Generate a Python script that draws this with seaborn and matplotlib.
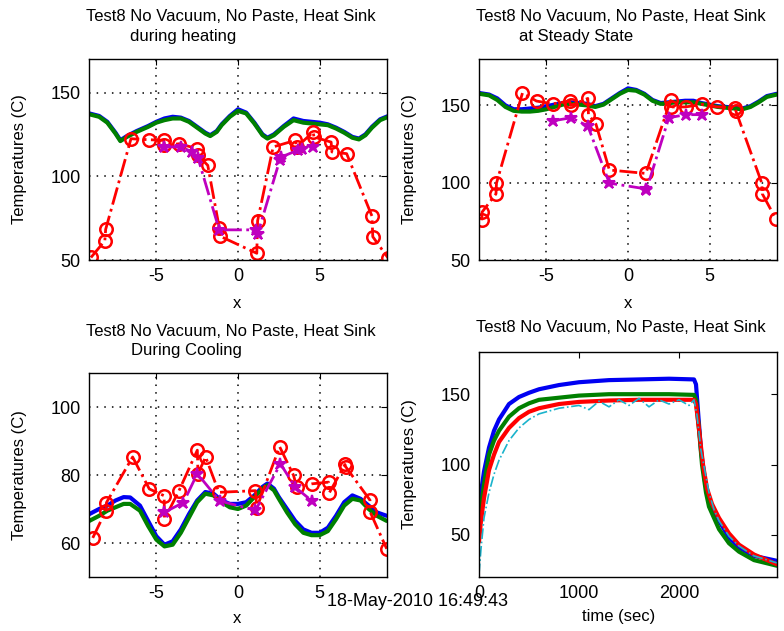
import numpy as np
import pandas as pd
import matplotlib
matplotlib.use("Agg")
import matplotlib.pyplot as plt
import seaborn as sns

# ---------------- data ----------------
title_main = "Test8 No Vacuum, No Paste, Heat Sink"
subtitles = ["during heating", "at Steady State", "During Cooling"]
timestamp = "18-May-2010 16:49:43"

# heating profile (top-left)
heat_x = [-9.1, -8.5, -8.0, -7.5, -7.2, -6.8, -6.2, -5.5, -5.0, -4.5, -4.0, -3.5, -3.0, -2.5, -2.0,
          -1.7, -1.3, -1.0, -0.5, 0.0, 0.5, 1.0, 1.5, 1.8, 2.2, 2.8, 3.4, 4.0, 4.5, 5.0, 5.5, 6.0,
          6.5, 7.0, 7.4, 7.8, 8.2, 8.7, 9.2]
heat_blue = [137.5, 136, 132.5, 126, 121.5, 124, 127, 130, 132.5, 134.5, 135.5, 135, 133, 129.5, 126,
             124.5, 127, 131, 136, 140, 138, 132, 125, 123, 125, 130, 134.5, 133, 132.5, 132, 131, 129,
             126.5, 123.5, 122.5, 125, 129.5, 134, 136]
heat_green = [137, 135.5, 132, 125.5, 121, 123.5, 126.5, 129.5, 132, 133.5, 134.5, 134.5, 132.5, 129, 125.5,
              124, 126.5, 130.5, 135.5, 139, 137.5, 131.5, 124.5, 122.5, 124.5, 129.5, 133.5, 132, 131.5,
              131, 130.5, 128.5, 126, 123, 122, 124.5, 129, 133.5, 135.5]
heat_red_x = [-9.0, -8.15, -8.1, -6.55, -5.45, -4.55, -4.5, -3.6, -2.5, -2.45, -1.85, -1.15, -1.12,
              1.15, 1.2, 2.15, 3.5, 3.6, 4.6, 4.65, 5.7, 5.75, 6.65, 8.2, 8.25, 9.2]
heat_red = [51.5, 61.5, 68.3, 122.4, 121.8, 121.5, 118.5, 119.4, 116.5, 112.5, 106.5, 69.4, 64.3,
            54, 73.4, 117.5, 121.4, 117.5, 126.4, 123.4, 120.4, 114.5, 113.5, 76.2, 63.9, 51]
heat_mag_x = [-4.55, -3.5, -2.8, -2.45, -1.15, 1.1, 1.2, 2.55, 2.65, 3.65, 3.9, 4.6]
heat_mag = [117.5, 117.5, 114.5, 111, 68, 68, 65.5, 109.5, 111.5, 115.5, 116.5, 117.5]

# steady state profile (top-right)
ss_x = [-9.1, -8.5, -8.0, -7.5, -7.0, -6.5, -6.0, -5.5, -5.0, -4.5, -4.0, -3.5, -3.0, -2.5, -2.0,
        -1.5, -1.0, -0.5, 0.0, 0.5, 1.0, 1.5, 2.0, 2.5, 3.0, 3.5, 4.0, 4.5, 5.0, 5.5, 6.0, 6.5, 7.0,
        7.5, 8.0, 8.5, 9.1]
ss_blue = [158, 157, 154.5, 150, 147.5, 147.5, 148, 148.5, 149.5, 150.5, 151.5, 152, 151.5, 151, 149.5,
           151, 154.5, 158, 161, 160, 157.5, 153.5, 151.5, 152, 152.5, 153, 153, 151.5, 150.5, 149.5,
           149, 148.5, 148, 149.5, 152.5, 156, 157.5]
ss_green = [157.5, 156.5, 153.5, 149, 146.5, 146, 146, 146.5, 147.5, 149, 150.5, 151, 150.5, 150, 149,
            150.5, 154, 157.5, 160, 159.5, 157, 153, 151, 151.5, 152, 152, 152, 151, 150, 149, 148.5,
            148, 147.5, 149, 152, 155.5, 157]
ss_red_x = [-8.95, -8.93, -8.08, -8.05, -6.46, -5.6, -4.6, -3.58, -3.5, -2.46, -2.42, -1.96, -1.14,
            1.09, 2.61, 2.65, 3.52, 4.54, 5.45, 6.57, 6.6, 8.19, 8.22, 9.04]
ss_red = [75.7, 81, 92.8, 99.7, 158, 152.8, 151, 152.8, 150, 154.5, 144, 137.8, 108.2,
          106, 153.2, 149, 149, 150.6, 149, 148.5, 146.4, 99.7, 92.8, 76.8]
ss_mag_x = [-4.6, -3.48, -2.46, -1.14, 1.09, 1.12, 2.5, 3.52, 4.54]
ss_mag = [140, 142, 136.7, 99.7, 96, 95, 142, 144, 144]

# cooling profile (bottom-left)
cool_x = [-9.1, -8.5, -8.0, -7.5, -7.0, -6.6, -6.0, -5.5, -5.0, -4.5, -4.0, -3.5, -3.0, -2.5, -2.0,
          -1.5, -1.0, -0.5, 0.0, 0.5, 1.0, 1.5, 1.8, 2.2, 2.5, 3.0, 3.5, 4.0, 4.5, 5.0, 5.5, 6.0,
          6.5, 7.0, 7.5, 8.0, 8.5, 9.1]
cool_blue = [68.5, 70, 71, 72.5, 73.5, 73.4, 71, 66.5, 62, 59.5, 60.5, 64, 68.5, 72.5, 75, 74.5, 72.5,
             71.5, 71.5, 72, 74, 76.5, 77.5, 76, 73.5, 70, 66.5, 64, 63, 63, 64.5, 68, 72, 74, 73,
             71, 69, 68]
cool_green = [66.5, 68, 69.5, 70.5, 71.5, 71.5, 69.5, 65, 61, 59, 59.5, 63, 67.5, 72, 74.5, 74, 72,
              70.5, 70, 71, 73.5, 76, 77, 75.5, 73, 69, 65.5, 63, 62.3, 62.3, 63.5, 67, 71, 73, 72.5,
              70, 68, 66.5]
cool_red_x = [-8.89, -8.1, -8.05, -6.45, -5.43, -4.52, -4.5, -3.61, -2.49, -2.45, -1.98, -1.17, 1.07,
              1.15, 2.55, 3.4, 3.6, 4.52, 5.54, 5.57, 6.55, 6.58, 8.08, 8.1, 9.1]
cool_red = [61.5, 69.4, 71.9, 85.3, 75.9, 73.9, 67, 75.4, 87.3, 80.4, 85.3, 74.9, 75.4,
            70.4, 88.3, 79.9, 76.4, 77.4, 77.9, 74.6, 83.1, 82.5, 72.6, 69, 58.3]
cool_mag_x = [-4.52, -3.34, -2.49, -1.13, 1.07, 2.6, 3.5, 4.52]
cool_mag = [69, 71.9, 80.4, 72.4, 69.6, 83.3, 76.4, 72.4]

# time histories (bottom-right)
t_blue = [0, 20, 50, 100, 150, 200, 300, 400, 500, 600, 800, 1000, 1300, 1600, 1900, 2150, 2170,
          2190, 2220, 2260, 2300, 2400, 2500, 2600, 2750, 2980]
T_blue = [65, 80, 95, 112, 124, 132, 143, 148, 151, 153.5, 156.5, 158.5, 160, 160.5, 161, 160.5, 157,
          138, 110, 88, 75, 60, 48, 41, 35, 31.5]
t_green = [0, 20, 50, 100, 150, 200, 300, 400, 500, 600, 800, 1000, 1300, 1600, 1900, 2150, 2170,
           2200, 2230, 2270, 2300, 2400, 2500, 2600, 2750, 2980]
T_green = [55, 70, 86, 107, 117, 124, 134, 140, 143.5, 146, 147.5, 149, 150, 150, 150, 149.5, 146,
           125, 100, 80, 70, 54, 44, 38, 32, 28]
t_red = [0, 20, 50, 100, 150, 200, 300, 400, 500, 600, 800, 1000, 1300, 1600, 1900, 2150, 2170,
         2200, 2240, 2280, 2330, 2400, 2500, 2600, 2750, 2980]
T_red = [45, 60, 76, 96, 107, 116, 126, 133, 137.5, 140, 143, 144.5, 145.5, 146, 146, 146, 143,
         125, 100, 83, 72, 62, 51, 43, 36, 29]
t_cyan = [0, 20, 50, 100, 150, 200, 300, 400, 500, 600, 800, 1000, 1100, 1200, 1300, 1400, 1500,
          1600, 1700, 1800, 1900, 2000, 2100, 2150, 2180, 2220, 2260, 2300, 2350, 2400, 2500, 2600,
          2750, 2980]
T_cyan = [22, 40, 62, 80, 93, 103, 117, 126, 132, 136, 140, 142, 139, 145, 141, 146, 142, 147, 141,
          146, 143, 146, 142, 146, 135, 110, 95, 80, 68, 60, 49, 42, 35, 30]

# ---------------- styling ----------------
sns.set_style("white")
plt.rcParams['font.family'] = ['Liberation Sans', 'DejaVu Sans']
plt.rcParams['text.color'] = 'black'
plt.rcParams['axes.labelcolor'] = 'black'
plt.rcParams['xtick.color'] = 'black'
plt.rcParams['ytick.color'] = 'black'

W, H = 784, 631
fig = plt.figure(figsize=(W / 100, H / 100), dpi=100)

BLUE = (0.0, 0.0, 0.95)
GREEN = (0.0, 0.5, 0.0)
RED = (1.0, 0.0, 0.0)
MAG = (0.75, 0.0, 0.75)
CYAN = (0.1, 0.7, 0.8)


def px_axes(l, t, r, b):
    return fig.add_axes([l / W, 1 - b / H, (r - l) / W, (b - t) / H])


def fx(x):
    return x / W


def fy(y):
    return 1 - y / H


def style_axes(ax, grid=True):
    for s in ax.spines.values():
        s.set_color('black')
        s.set_linewidth(1.0)
        s.set_visible(True)
    ax.tick_params(direction='in', top=True, right=True, length=4, width=0.8,
                   labelsize=13, pad=6, colors='black')
    if grid:
        ax.grid(True, linestyle=(0, (1, 4)), color='black', linewidth=1.1)
    else:
        ax.grid(False)
    ax.set_xlabel('')
    ax.set_ylabel('Temperatures (C)', fontsize=12, color='black')


def profile(ax, x, blue, green, rx, red, mx, mag):
    sns.lineplot(x=x, y=blue, ax=ax, color=BLUE, linewidth=3.0, estimator=None, sort=False)
    sns.lineplot(x=x, y=green, ax=ax, color=GREEN, linewidth=3.0, estimator=None, sort=False)
    sns.lineplot(x=rx, y=red, ax=ax, color=RED, linewidth=2.0, linestyle='-.', estimator=None,
                 sort=False, marker='o', markersize=9, markerfacecolor='none',
                 markeredgecolor=RED, markeredgewidth=1.8)
    sns.lineplot(x=mx, y=mag, ax=ax, color=MAG, linewidth=2.0, linestyle='-.', estimator=None,
                 sort=False, marker='*', markersize=9, markerfacecolor=MAG,
                 markeredgecolor=MAG, markeredgewidth=1.5)
    ax.set_xlim(-9.12, 9.12)
    ax.set_xticks([-5, 0, 5])
    ax.set_xticklabels(['-5', '0', '5'])


# top-left
ax1 = px_axes(89, 59, 387, 260)
profile(ax1, heat_x, heat_blue, heat_green, heat_red_x, heat_red, heat_mag_x, heat_mag)
ax1.set_ylim(50, 170)
ax1.set_yticks([50, 100, 150])
style_axes(ax1)

# top-right
ax2 = px_axes(479, 59, 777, 260)
profile(ax2, ss_x, ss_blue, ss_green, ss_red_x, ss_red, ss_mag_x, ss_mag)
ax2.set_ylim(50, 180)
ax2.set_yticks([50, 100, 150])
style_axes(ax2)

# bottom-left
ax3 = px_axes(89, 373, 387, 577)
profile(ax3, cool_x, cool_blue, cool_green, cool_red_x, cool_red, cool_mag_x, cool_mag)
ax3.set_ylim(50, 110)
ax3.set_yticks([60, 80, 100])
style_axes(ax3)

# bottom-right
ax4 = px_axes(479, 352, 777, 577)
sns.lineplot(x=t_blue, y=T_blue, ax=ax4, color=BLUE, linewidth=3.0, estimator=None, sort=False)
sns.lineplot(x=t_green, y=T_green, ax=ax4, color=GREEN, linewidth=3.0, estimator=None, sort=False)
sns.lineplot(x=t_red, y=T_red, ax=ax4, color=RED, linewidth=3.0, estimator=None, sort=False)
sns.lineplot(x=t_cyan, y=T_cyan, ax=ax4, color=CYAN, linewidth=1.2, linestyle='-.',
             estimator=None, sort=False)
ax4.set_xlim(0, 2980)
ax4.set_ylim(20, 180)
ax4.set_xticks([0, 1000, 2000])
ax4.set_yticks([50, 100, 150])
style_axes(ax4, grid=False)

for ax, cx in [(ax1, 27), (ax3, 27), (ax2, 417), (ax4, 417)]:
    bb = ax.get_position()
    ax.yaxis.set_label_coords((cx - bb.x0 * W) / (bb.width * W), 0.5)

# titles
for (lx, by1, sub, sx, by2) in [(86, 21, subtitles[0], 130, 41),
                                 (476, 21, subtitles[1], 519, 41),
                                 (86, 336, subtitles[2], 131, 355)]:
    fig.text(fx(lx), fy(by1), title_main, fontsize=12, ha='left', va='baseline', color='black')
    fig.text(fx(sx), fy(by2), sub, fontsize=12, ha='left', va='baseline', color='black')
fig.text(fx(476), fy(332), title_main, fontsize=12, ha='left', va='baseline', color='black')

# x labels
fig.text(fx(237), fy(308), 'x', fontsize=12, ha='center', va='baseline', color='black')
fig.text(fx(628), fy(308), 'x', fontsize=12, ha='center', va='baseline', color='black')
fig.text(fx(237), fy(623), 'x', fontsize=12, ha='center', va='baseline', color='black')
fig.text(fx(619), fy(621), 'time (sec)', fontsize=12, ha='center', va='baseline', color='black')

# timestamp (overlaps the "0" tick label, as in the original figure)
fig.text(fx(327), fy(606), timestamp, fontsize=13, ha='left', va='baseline', color='black')

fig.savefig('out.png', dpi=100)
